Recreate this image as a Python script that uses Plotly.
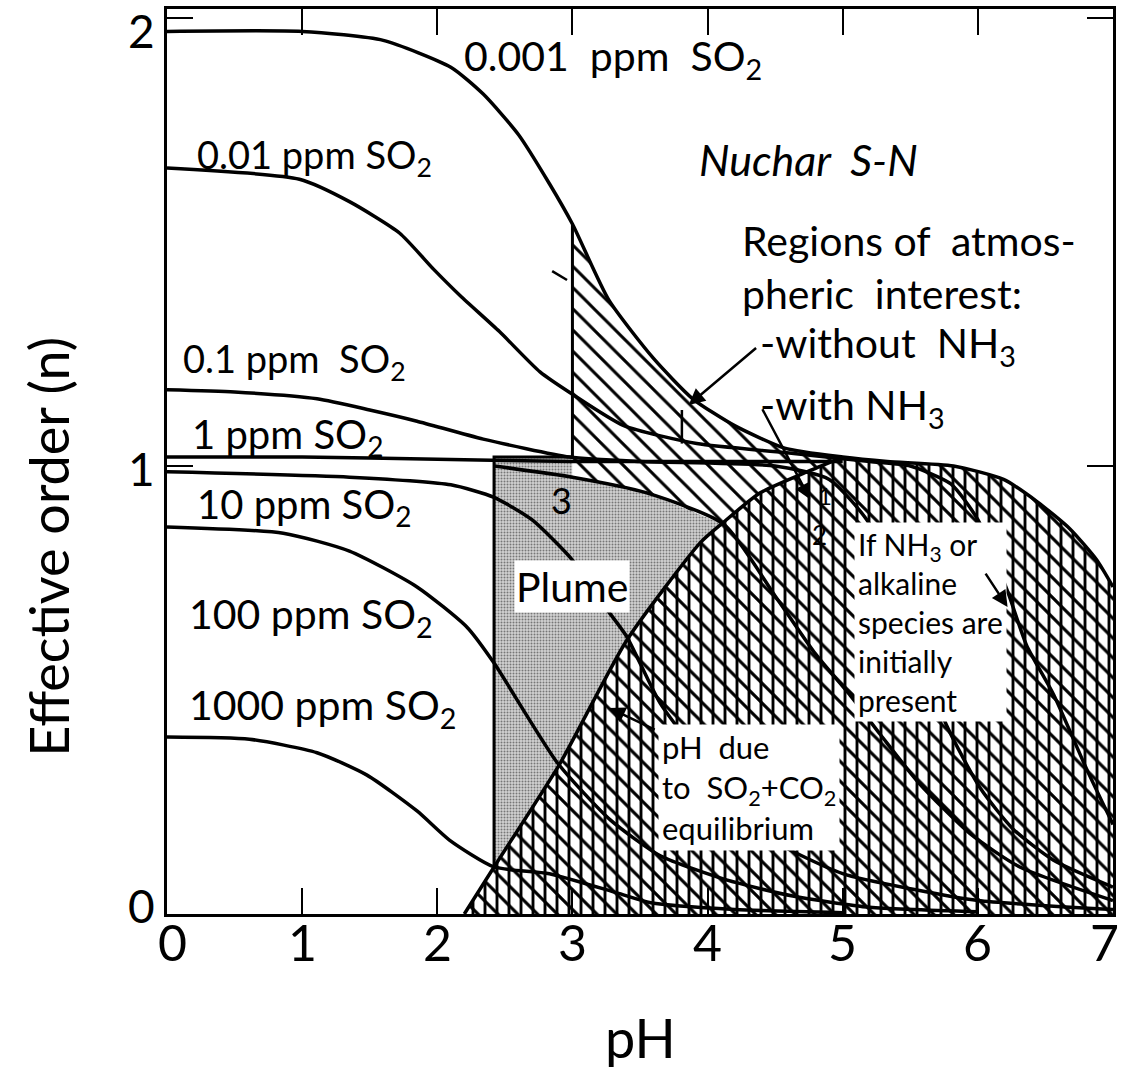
import plotly.graph_objects as go

# ---- data (pH, effective order n) ----
so2_0p001_x = [0, 1.0, 1.6, 2.1, 2.34, 2.6, 2.83, 3.0, 3.27, 3.6, 3.89, 4.2, 4.57, 5.0, 5.33, 5.82, 6.19, 6.44, 6.68, 6.88, 7.0]
so2_0p001_y = [1.97, 1.97, 1.95, 1.89, 1.83, 1.74, 1.63, 1.54, 1.37, 1.24, 1.15, 1.09, 1.04, 1.02, 1.01, 1.0, 0.97, 0.92, 0.86, 0.79, 0.73]

so2_0p01_x = [0, 0.98, 1.35, 1.72, 1.97, 2.17, 2.46, 2.76, 3.0, 3.38, 3.92, 4.57, 5.2, 5.5, 5.8, 6.0, 6.22, 6.36, 6.56, 6.81, 7.0]
so2_0p01_y = [1.665, 1.64, 1.59, 1.52, 1.44, 1.38, 1.30, 1.21, 1.16, 1.09, 1.05, 1.03, 1.01, 1.0, 0.96, 0.88, 0.72, 0.6, 0.49, 0.32, 0.2]

so2_0p1_x = [0, 0.5, 1.11, 1.5, 1.85, 2.34, 2.98, 3.5, 4.5, 4.9, 5.2, 5.5, 5.77, 6.02, 6.26, 6.56, 7.0]
so2_0p1_y = [1.17, 1.165, 1.15, 1.125, 1.10, 1.06, 1.02, 1.01, 1.0, 0.97, 0.87, 0.64, 0.42, 0.28, 0.19, 0.12, 0.06]

so2_1_x = [0, 1.0, 2.0, 3.0, 4.0, 5.0]
so2_1_y = [1.02, 1.02, 1.015, 1.01, 1.01, 1.01]

nh3_edge_x = [2.42, 3.0, 3.55, 4.12, 4.5, 4.8, 5.05, 5.28, 5.57, 5.94, 6.31, 7.0]
nh3_edge_y = [1.0, 0.975, 0.94, 0.87, 0.71, 0.58, 0.49, 0.40, 0.29, 0.18, 0.105, 0.03]

so2_10_x = [0, 1.35, 2.1, 2.42, 2.7, 3.0, 3.23, 3.4, 3.65, 4.0, 4.4, 5.0, 5.54, 6.0, 7.0]
so2_10_y = [0.987, 0.975, 0.958, 0.93, 0.88, 0.79, 0.69, 0.62, 0.47, 0.33, 0.18, 0.09, 0.054, 0.03, 0.01]

so2_100_x = [0, 0.86, 1.35, 1.85, 2.22, 2.42, 2.89, 3.28, 3.65, 4.14, 4.63, 5.2, 6.0]
so2_100_y = [0.864, 0.85, 0.81, 0.73, 0.64, 0.56, 0.337, 0.21, 0.13, 0.076, 0.04, 0.015, 0.005]

so2_1000_x = [0, 0.61, 1.11, 1.48, 1.85, 2.09, 2.42, 2.83, 3.33, 3.58, 4.2, 5.0]
so2_1000_y = [0.395, 0.39, 0.36, 0.31, 0.23, 0.165, 0.105, 0.09, 0.047, 0.025, 0.01, 0.003]

equil_x = [2.2, 2.42, 2.91, 3.40, 3.95, 4.12, 4.39, 4.76, 5.0]
equil_y = [0.0, 0.105, 0.337, 0.61, 0.83, 0.875, 0.94, 0.99, 1.02]

plume_left_x = 2.42
plume_top_y = 1.02
region1_left_x = 3.0

x_ticks = [0, 1, 2, 3, 4, 5, 6, 7]
x_tick_labels = ["0", "1", "2", "3", "4", "5", "6", "7"]
y_ticks = [0, 1, 2]
y_tick_labels = ["0", "1", "2"]

FONT = "Lato"
fig = go.Figure()

def sel(xs, ys, lo, hi):
    return [(a, b) for a, b in zip(xs, ys) if lo <= a <= hi]

# ---- plume (stippled) ----
e_part = sel(nh3_edge_x, nh3_edge_y, region1_left_x, 4.12)
a_part = sel(equil_x, equil_y, plume_left_x, 4.12)[::-1]
px = [plume_left_x, plume_left_x, region1_left_x] + [p[0] for p in e_part] + [p[0] for p in a_part]
py = [equil_y[1], plume_top_y, plume_top_y] + [p[1] for p in e_part] + [p[1] for p in a_part]
fig.add_trace(go.Scatter(x=px, y=py, mode="lines", fill="toself", line=dict(width=0),
                         fillcolor="#d0d0d0",
                         fillpattern=dict(shape=".", size=3, solidity=0.35, fgcolor="#777777", fgopacity=1,
                                          bgcolor="#d3d3d3"),
                         hoverinfo="skip", showlegend=False))

# ---- region 1 (single hatch) ----
t_part = sel(so2_0p001_x, so2_0p001_y, region1_left_x, 5.0)
a2 = sel(equil_x, equil_y, 4.12, 5.0)[::-1]
e2 = sel(nh3_edge_x, nh3_edge_y, region1_left_x, 4.12)[::-1]
rx = [p[0] for p in t_part] + [p[0] for p in a2] + [p[0] for p in e2]
ry = [p[1] for p in t_part] + [p[1] for p in a2] + [p[1] for p in e2]
fig.add_trace(go.Scatter(x=rx, y=ry, mode="lines", fill="toself", line=dict(width=0),
                         fillcolor="white",
                         fillpattern=dict(shape="\\", size=15, solidity=0.2, fgcolor="black", fgopacity=1,
                                          bgcolor="white"),
                         hoverinfo="skip", showlegend=False))

# ---- region 2 (cross hatch) ----
t3 = sel(so2_0p001_x, so2_0p001_y, 5.0, 7.0)
cx = list(equil_x) + [p[0] for p in t3][1:] + [7.0, equil_x[0]]
cy = list(equil_y) + [p[1] for p in t3][1:] + [0.0, 0.0]
fig.add_trace(go.Scatter(x=cx, y=cy, mode="lines", fill="toself", line=dict(width=0),
                         fillcolor="white",
                         fillpattern=dict(shape="|", size=12, solidity=0.24, fgcolor="black", fgopacity=1,
                                          bgcolor="white"),
                         hoverinfo="skip", showlegend=False))
fig.add_trace(go.Scatter(x=cx, y=cy, mode="lines", fill="toself", line=dict(width=0),
                         fillcolor="white",
                         fillpattern=dict(shape="\\", size=14, solidity=0.22, fgcolor="black", fgopacity=1,
                                          bgcolor="rgba(255,255,255,0)"),
                         hoverinfo="skip", showlegend=False))

# ---- curves ----
LW = 3.5
for xs, ys in [(so2_0p001_x, so2_0p001_y), (so2_0p01_x, so2_0p01_y), (so2_0p1_x, so2_0p1_y),
               (so2_1_x, so2_1_y), (nh3_edge_x, nh3_edge_y), (so2_10_x, so2_10_y),
               (so2_100_x, so2_100_y), (so2_1000_x, so2_1000_y), (equil_x, equil_y)]:
    fig.add_trace(go.Scatter(x=xs, y=ys, mode="lines", line=dict(color="black", width=LW, shape="spline", smoothing=0.6),
                             hoverinfo="skip", showlegend=False))

# region outlines
fig.add_trace(go.Scatter(x=[region1_left_x, region1_left_x], y=[plume_top_y, so2_0p001_y[7]], mode="lines",
                         line=dict(color="black", width=3), showlegend=False, hoverinfo="skip"))
fig.add_trace(go.Scatter(x=[plume_left_x, plume_left_x, region1_left_x], y=[equil_y[1], plume_top_y, plume_top_y], mode="lines",
                         line=dict(color="black", width=3), showlegend=False, hoverinfo="skip"))
# small marks
fig.add_trace(go.Scatter(x=[3.81, 3.81], y=[1.125, 1.05], mode="lines", line=dict(color="black", width=2.5),
                         showlegend=False, hoverinfo="skip"))
fig.add_trace(go.Scatter(x=[2.85, 2.96], y=[1.435, 1.415], mode="lines", line=dict(color="black", width=2.5),
                         showlegend=False, hoverinfo="skip"))

ann = []
def lab(x, y, t, size=40, xanchor="left", **kw):
    d = dict(x=x, y=y, xref="x", yref="y", text=t, showarrow=False, xanchor=xanchor, yanchor="middle",
             font=dict(family=FONT, size=size, color="black"))
    d.update(kw)
    ann.append(d)

lab(2.18, 1.91, "0.001  ppm  SO<sub>2</sub>", size=41)
lab(0.21, 1.69, "0.01 ppm SO<sub>2</sub>", size=38)
lab(3.92, 1.683, "<i>Nuchar  S-N</i>", size=43)
lab(4.24, 1.445, "Regions of  atmos-<br>pheric  interest:", size=41, align="left")
lab(4.37, 1.27, "-without  NH<sub>3</sub>", size=41)
lab(4.37, 1.13, "-with NH<sub>3</sub>", size=41)
lab(0.1, 1.235, "0.1 ppm  SO<sub>2</sub>", size=38)
lab(0.17, 1.065, "1 ppm SO<sub>2</sub>", size=40)
lab(0.21, 0.91, "10 ppm SO<sub>2</sub>", size=40)
lab(0.15, 0.665, "100 ppm SO<sub>2</sub>", size=41)
lab(0.15, 0.46, "1000 ppm SO<sub>2</sub>", size=41)
lab(2.92, 0.924, "3", size=36, xanchor="center")
lab(4.87, 0.935, "1", size=24, xanchor="center")
lab(4.83, 0.845, "2", size=26, xanchor="center")
lab(3.0, 0.73, "Plume", size=41, xanchor="center", bgcolor="white", borderpad=1)
lab(3.63, 0.283, "pH  due<br>to  SO<sub>2</sub>+CO<sub>2</sub><br>equilibrium", size=31, align="left",
    bgcolor="white", borderpad=3)
lab(5.08, 0.652, "If NH<sub>3</sub> or<br>alkaline<br>species are<br>initially<br>present", size=30, align="left",
    bgcolor="white", borderpad=3)

# arrows
def arrow(hx, hy, tx, ty):
    ann.append(dict(x=hx, y=hy, ax=tx, ay=ty, xref="x", yref="y", axref="x", ayref="y", text="",
                    showarrow=True, arrowhead=2, arrowsize=1.3, arrowwidth=2.5, arrowcolor="black"))
arrow(3.86, 1.136, 4.37, 1.266)
arrow(4.76, 0.925, 4.40, 1.13)
arrow(3.27, 0.46, 3.62, 0.41)
arrow(6.22, 0.685, 6.05, 0.763)

# tick labels (drawn as text at the tick values, nudged like the original lettering)
x_shift = {0: 5, 7: -9}
for v, t in zip(x_ticks, x_tick_labels):
    ann.append(dict(x=v, y=0, xref="x", yref="y", text=t, showarrow=False, xanchor="center", yanchor="middle",
                    xshift=x_shift.get(v, 0), yshift=-28, font=dict(family=FONT, size=50, color="black")))
y_shift = {0: 9, 1: -3, 2: -13}
for v, t in zip(y_ticks, y_tick_labels):
    ann.append(dict(x=0, y=v, xref="x", yref="y", text=t, showarrow=False, xanchor="right", yanchor="middle",
                    xshift=-10, yshift=y_shift.get(v, 0), font=dict(family=FONT, size=46, color="black")))

# axis titles
ann.append(dict(x=-0.126, y=0.4055, xref="paper", yref="paper", text="Effective order (n)", textangle=-90,
                xanchor="center", yanchor="middle",
                showarrow=False, font=dict(family=FONT, size=54, color="black")))
ann.append(dict(x=0.5, y=-0.136, xref="paper", yref="paper", text="pH", showarrow=False,
                xanchor="center", yanchor="middle",
                font=dict(family=FONT, size=54, color="black")))

fig.update_layout(
    width=1123, height=1079,
    margin=dict(l=167, r=10, t=9, b=165, autoexpand=False),
    paper_bgcolor="white", plot_bgcolor="white",
    annotations=ann,
    xaxis=dict(range=[0, 7], tickvals=x_ticks, showticklabels=False, ticks="inside", ticklen=26,
               tickwidth=2, tickcolor="black", showline=True, linecolor="black", linewidth=3, mirror="ticks",
               showgrid=False, zeroline=False, automargin=False),
    yaxis=dict(range=[0, 2.02], tickvals=y_ticks, showticklabels=False, ticks="inside", ticklen=26,
               tickwidth=2, tickcolor="black", showline=True, linecolor="black", linewidth=3, mirror="ticks",
               showgrid=False, zeroline=False, automargin=False),
)

fig.write_html("out.html")
